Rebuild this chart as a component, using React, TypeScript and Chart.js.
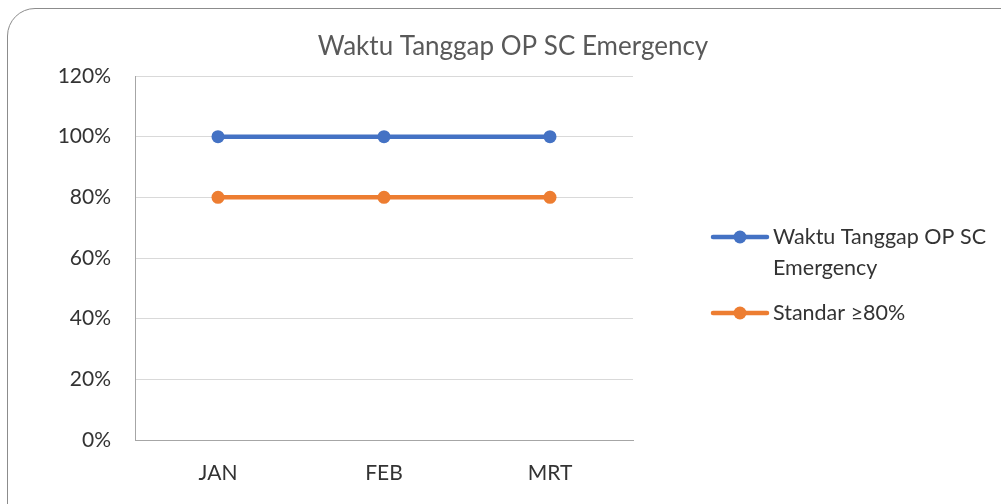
import React, { useEffect, useRef } from "react";
import { Chart, registerables } from "chart.js";

Chart.register(...registerables);

const chartTitle = "Waktu Tanggap OP SC Emergency";
const categories = ["JAN", "FEB", "MRT"];
const seriesNames = ["Waktu Tanggap OP SC Emergency", "Standar ≥80%"];
const responseValues = [1.0, 1.0, 1.0];
const standardValues = [0.8, 0.8, 0.8];
const yTickLabels = ["0%", "20%", "40%", "60%", "80%", "100%", "120%"];
const seriesColors = ["#4472C4", "#ED7D31"];

const FONT = "Lato, 'Open Sans', sans-serif";

const titleLegendPlugin = {
  id: "titleLegend",
  afterDraw(chart: any) {
    const ctx = chart.ctx as CanvasRenderingContext2D;
    ctx.save();
    // Title
    ctx.fillStyle = "#595959";
    ctx.font = `26px ${FONT}`;
    ctx.textAlign = "center";
    ctx.textBaseline = "middle";
    ctx.fillText(chartTitle, 513, 47);

    // Legend
    const symX0 = 713;
    const symX1 = 767;
    const textX = 773;
    const maxW = 240;
    const lineH = 31;
    let y = 237;
    ctx.font = `21.5px ${FONT}`;
    ctx.textAlign = "left";
    chart.data.datasets.forEach((ds: any) => {
      const color = ds.borderColor;
      ctx.strokeStyle = color;
      ctx.lineWidth = 4.5;
      ctx.lineCap = "round";
      ctx.beginPath();
      ctx.moveTo(symX0, y);
      ctx.lineTo(symX1, y);
      ctx.stroke();
      ctx.fillStyle = color;
      ctx.beginPath();
      ctx.arc((symX0 + symX1) / 2, y, 6.5, 0, Math.PI * 2);
      ctx.fill();
      const words = String(ds.label).split(" ");
      const lines: string[] = [];
      let cur = "";
      words.forEach((w) => {
        const test = cur ? cur + " " + w : w;
        if (ctx.measureText(test).width > maxW && cur) {
          lines.push(cur);
          cur = w;
        } else {
          cur = test;
        }
      });
      if (cur) lines.push(cur);
      ctx.fillStyle = "#333333";
      lines.forEach((ln, i) => {
        ctx.fillText(ln, textX, y + i * lineH);
      });
      y += lines.length * lineH + 14;
    });
    ctx.restore();
  },
};

export default function App() {
  const ref = useRef<HTMLCanvasElement>(null);

  useEffect(() => {
    if (!ref.current) return;
    const chart = new Chart(ref.current, {
      type: "line",
      data: {
        labels: categories,
        datasets: [
          {
            label: seriesNames[0],
            data: responseValues,
            borderColor: seriesColors[0],
            backgroundColor: seriesColors[0],
            pointBackgroundColor: seriesColors[0],
            borderWidth: 4.5,
            pointRadius: 6.5,
            pointBorderWidth: 0,
            tension: 0,
          },
          {
            label: seriesNames[1],
            data: standardValues,
            borderColor: seriesColors[1],
            backgroundColor: seriesColors[1],
            pointBackgroundColor: seriesColors[1],
            borderWidth: 4.5,
            pointRadius: 6.5,
            pointBorderWidth: 0,
            tension: 0,
          },
        ],
      },
      options: {
        responsive: false,
        animation: false,
        devicePixelRatio: 1,
        layout: { padding: { left: 25, top: 76, right: 368, bottom: 14 } },
        plugins: {
          legend: { display: false },
          title: { display: false },
          tooltip: { enabled: false },
        },
        scales: {
          x: {
            offset: true,
            grid: { color: "rgba(0,0,0,0)", drawTicks: false },
            border: { display: true, color: "#A6A6A6", width: 1 },
            ticks: {
              color: "#333333",
              font: { family: FONT, size: 21 },
              padding: 21,
              maxRotation: 0,
            },
            afterFit: (s: any) => {
              s.height = 50;
            },
          },
          y: {
            min: 0,
            max: 1.2,
            grid: { color: "#D9D9D9", drawTicks: false, lineWidth: 1 },
            border: { display: true, color: "#A6A6A6", width: 1 },
            ticks: {
              stepSize: 0.2,
              color: "#333333",
              font: { family: FONT, size: 21 },
              padding: 24,
              callback: (_v: any, i: number) => yTickLabels[i],
            },
            afterFit: (s: any) => {
              s.width = 110;
            },
          },
        },
      },
      plugins: [titleLegendPlugin],
    });
    return () => chart.destroy();
  }, []);

  return (
    <div
      style={{
        position: "absolute",
        left: 0,
        top: 0,
        width: 1001,
        height: 504,
        overflow: "hidden",
        background: "#fff",
      }}
    >
      <div
        style={{
          position: "absolute",
          left: 7,
          top: 8,
          width: 1030,
          height: 530,
          border: "1.5px solid #8C8C8C",
          borderRadius: 28,
          boxSizing: "border-box",
        }}
      />
      <canvas
        ref={ref}
        width={1001}
        height={504}
        style={{ position: "absolute", left: 0, top: 0, width: 1001, height: 504 }}
      />
    </div>
  );
}
